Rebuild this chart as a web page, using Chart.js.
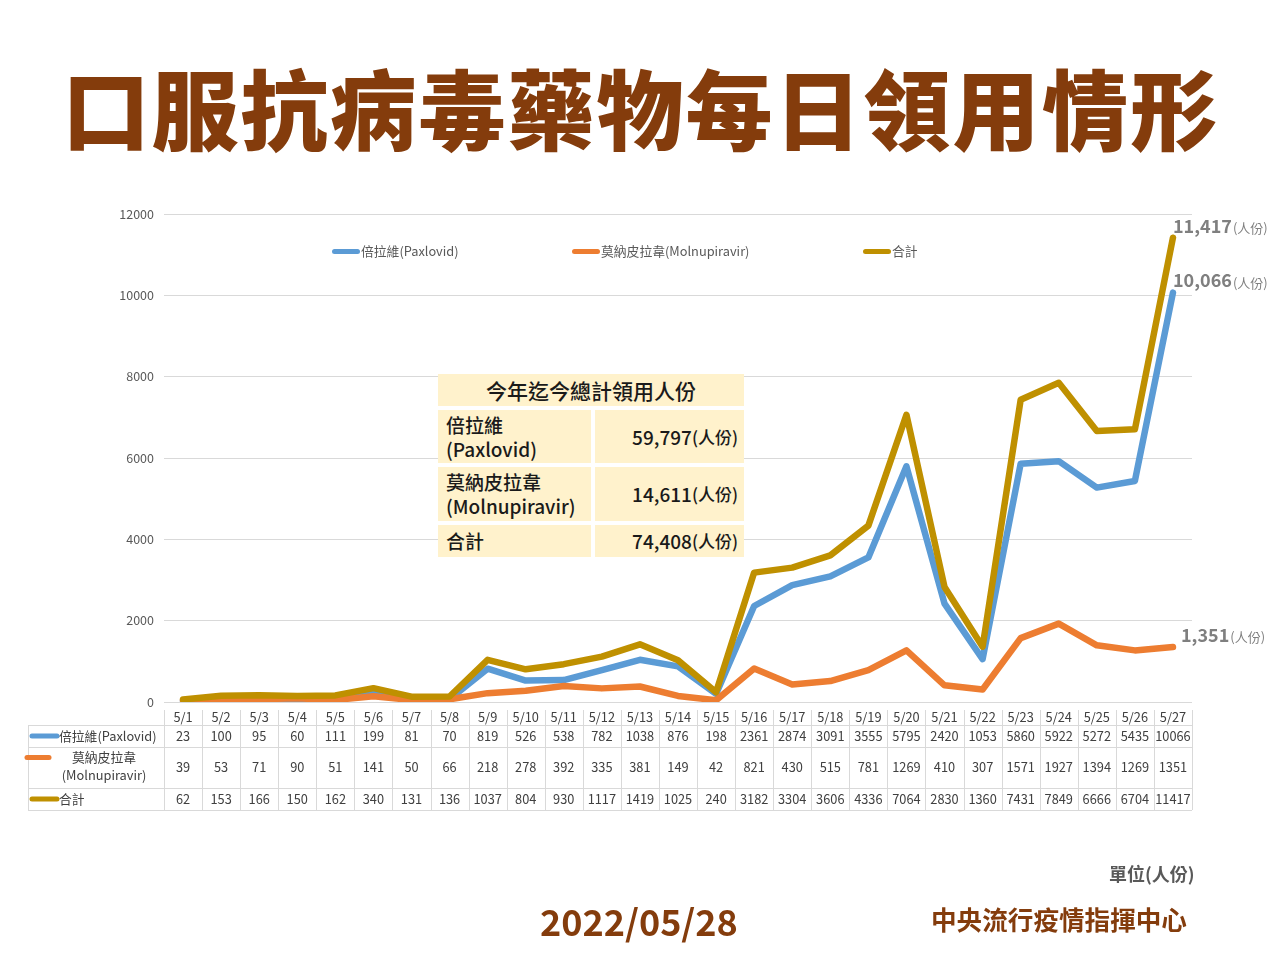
<!DOCTYPE html>
<html>
<head>
<meta charset="utf-8">
<script src="https://cdn.jsdelivr.net/npm/chart.js@4.4.1/dist/chart.umd.min.js"></script>
<style>
  html, body { margin:0; padding:0; background:#fff; }
  body { width:1280px; height:960px; position:relative; overflow:hidden;
         font-family:'Noto Sans CJK TC','Noto Sans',sans-serif; }
  #wrap { position:absolute; left:0; top:0; width:1280px; height:960px; }
  .abs { position:absolute; white-space:nowrap; line-height:1; }
  #title { left:0; width:1282px; top:63px; text-align:center; font-size:87px; font-weight:900;
           color:#843C0C; letter-spacing:2px; }
  #date { left:540px; top:902px; font-size:36px; font-weight:700; color:#843C0C; }
  #org { left:931px; top:906px; font-size:25.6px; font-weight:700; color:#843C0C; }
  #unit { left:1109px; top:864px; font-size:18px; font-weight:700; color:#595959; }
  #legend { left:0; top:243px; height:16px; width:1280px; }
  .lg { position:absolute; top:0; font-size:12.8px; color:#595959; display:flex; align-items:center; height:16px; }
  .lg i { display:inline-block; width:28px; height:5px; border-radius:3px; margin-right:1px; }
  #summary { left:438px; top:374px; width:306px; height:183px; display:grid;
             grid-template-columns:153px 149px; grid-template-rows:32px 53px 54px 32px;
             gap:4px; background:#fff; }
  #summary div { background:#FFF2CC; color:#1a1a1a; font-size:19px; font-weight:500;
                 display:flex; align-items:center; line-height:1.25; }
  #summary .hd { grid-column:1 / span 2; justify-content:center; font-size:21px; }
  #summary .nm { padding-left:8px; }
  #summary .vl { justify-content:flex-end; padding-right:6px; }
  #summary .vl small { font-size:17px; }
</style>
</head>
<body>
<div id="wrap"><canvas id="c" width="1280" height="960"></canvas></div>
<div id="title" class="abs">口服抗病毒藥物每日領用情形</div>
<div id="legend" class="abs"></div>
<div id="summary" class="abs"></div>
<div id="unit" class="abs">單位(人份)</div>
<div id="date" class="abs">2022/05/28</div>
<div id="org" class="abs">中央流行疫情指揮中心</div>
<script>
const days = ['5/1','5/2','5/3','5/4','5/5','5/6','5/7','5/8','5/9','5/10','5/11','5/12','5/13','5/14','5/15','5/16','5/17','5/18','5/19','5/20','5/21','5/22','5/23','5/24','5/25','5/26','5/27'];
const paxlovid = [23,100,95,60,111,199,81,70,819,526,538,782,1038,876,198,2361,2874,3091,3555,5795,2420,1053,5860,5922,5272,5435,10066];
const molnupiravir = [39,53,71,90,51,141,50,66,218,278,392,335,381,149,42,821,430,515,781,1269,410,307,1571,1927,1394,1269,1351];
const total = [62,153,166,150,162,340,131,136,1037,804,930,1117,1419,1025,240,3182,3304,3606,4336,7064,2830,1360,7431,7849,6666,6704,11417];
const seriesNames = ['倍拉維(Paxlovid)','莫納皮拉韋(Molnupiravir)','合計'];
const tableNames = [['倍拉維(Paxlovid)'],['莫納皮拉韋','(Molnupiravir)'],['合計']];
const seriesColors = ['#5B9BD5','#ED7D31','#BF9000'];
const yTicks = [0,2000,4000,6000,8000,10000,12000];
const summaryTitle = '今年迄今總計領用人份';
const summaryNames = [['倍拉維','(Paxlovid)'],['莫納皮拉韋','(Molnupiravir)'],['合計']];
const summaryValues = ['59,797','14,611','74,408'];
const unitText = '(人份)';

// HTML legend
const legendX = [332, 572, 863];
const lg = document.getElementById('legend');
seriesNames.forEach((n,i)=>{
  const d = document.createElement('div');
  d.className='lg'; d.style.left = legendX[i]+'px';
  d.innerHTML = '<i style="background:'+seriesColors[i]+'"></i>'+n;
  lg.appendChild(d);
});
// summary box
const sm = document.getElementById('summary');
sm.innerHTML = '<div class="hd">'+summaryTitle+'</div>' + summaryNames.map((n,i)=>
  '<div class="nm">'+n.join('<br>')+'</div><div class="vl">'+summaryValues[i]+'<small>'+unitText+'</small></div>').join('');

const FONT = "'Noto Sans CJK TC','Noto Sans',sans-serif";
Chart.defaults.font.family = FONT;

const tablePlugin = {
  id:'dataTable',
  afterDraw(chart){
    const ctx = chart.ctx, x = chart.scales.x;
    const n = days.length;
    const colW = x.width / n;
    const left = x.left, right = x.right;
    const labelLeft = 28;
    const rows = [710, 725, 747, 788, 810];
    ctx.save();
    ctx.strokeStyle = '#d9d9d9'; ctx.lineWidth = 1;
    for (let r=1; r<rows.length; r++){
      ctx.beginPath(); ctx.moveTo(labelLeft, rows[r]+0.5); ctx.lineTo(right, rows[r]+0.5); ctx.stroke();
    }
    for (let i=0;i<=n;i++){
      const px = Math.round(left + i*colW)+0.5;
      ctx.beginPath(); ctx.moveTo(px, rows[0]); ctx.lineTo(px, rows[4]); ctx.stroke();
    }
    ctx.beginPath(); ctx.moveTo(labelLeft+0.5, rows[1]); ctx.lineTo(labelLeft+0.5, rows[4]); ctx.stroke();
    ctx.fillStyle = '#404040';
    ctx.font = '12.8px '+FONT;
    ctx.textAlign='center'; ctx.textBaseline='middle';
    const data = [paxlovid, molnupiravir, total];
    for (let i=0;i<n;i++){
      const cx = x.getPixelForValue(i);
      ctx.fillText(days[i], cx, (rows[0]+rows[1])/2);
      for (let r=0;r<3;r++) ctx.fillText(String(data[r][i]), cx, (rows[r+1]+rows[r+2])/2);
    }
    ctx.lineCap='round';
    for (let r=0;r<3;r++){
      const cy = (rows[r+1]+rows[r+2])/2;
      ctx.strokeStyle = seriesColors[r]; ctx.lineWidth = 5;
      if (tableNames[r].length===1){
        ctx.beginPath(); ctx.moveTo(32, cy); ctx.lineTo(57, cy); ctx.stroke();
        ctx.textAlign='left'; ctx.fillText(tableNames[r][0], 59, cy);
      } else {
        ctx.beginPath(); ctx.moveTo(27, cy-10); ctx.lineTo(49, cy-10); ctx.stroke();
        ctx.textAlign='center';
        ctx.fillText(tableNames[r][0], 104, cy-10);
        ctx.fillText(tableNames[r][1], 104, cy+8);
      }
    }
    ctx.restore();
  }
};

const endLabelPlugin = {
  id:'endLabels',
  afterDatasetsDraw(chart){
    const ctx = chart.ctx;
    const offs = [[0,-12],[8,-12],[0,-12]];
    ctx.save();
    ctx.textBaseline='middle'; ctx.textAlign='left';
    chart.data.datasets.forEach((ds,di)=>{
      const meta = chart.getDatasetMeta(di);
      const pt = meta.data[meta.data.length-1];
      const v = ds.data[ds.data.length-1];
      const txt = v.toLocaleString('en-US');
      const x0 = pt.x + offs[di][0], y0 = pt.y + offs[di][1];
      ctx.fillStyle = '#7f7f7f';
      ctx.font = 'bold 18px '+FONT;
      ctx.fillText(txt, x0, y0);
      const w = ctx.measureText(txt).width;
      ctx.font = '13px '+FONT;
      ctx.fillText(unitText, x0 + w + 1, y0 + 2);
    });
    ctx.restore();
  }
};

new Chart(document.getElementById('c'), {
  type:'line',
  data:{
    labels: days,
    datasets:[
      {label:seriesNames[0], data:paxlovid, borderColor:seriesColors[0], order:2},
      {label:seriesNames[1], data:molnupiravir, borderColor:seriesColors[1], order:1},
      {label:seriesNames[2], data:total, borderColor:seriesColors[2], order:0}
    ].map(d=>Object.assign(d,{borderWidth:6.5, pointRadius:0, tension:0, fill:false,
        borderCapStyle:'round', borderJoinStyle:'round', backgroundColor:d.borderColor}))
  },
  options:{
    responsive:false, animation:false, devicePixelRatio:1,
    layout:{ padding:{ left:100, top:214, right:88, bottom:258 } },
    plugins:{ legend:{display:false}, tooltip:{enabled:false} },
    scales:{
      x:{ offset:true, grid:{display:false, drawTicks:false}, border:{display:false},
          ticks:{display:false}, afterFit(s){ s.height = 0; } },
      y:{ min:0, max:12000, grid:{color:'#d9d9d9', drawTicks:false, lineWidth:1}, border:{display:false},
          afterBuildTicks(s){ s.ticks = yTicks.map(v=>({value:v})); },
          ticks:{ padding:10, color:'#595959', font:{size:12.5}, callback:(v)=>String(v) },
          afterFit(s){ s.width = 64; } }
    }
  },
  plugins:[tablePlugin, endLabelPlugin]
});
</script>
</body>
</html>
